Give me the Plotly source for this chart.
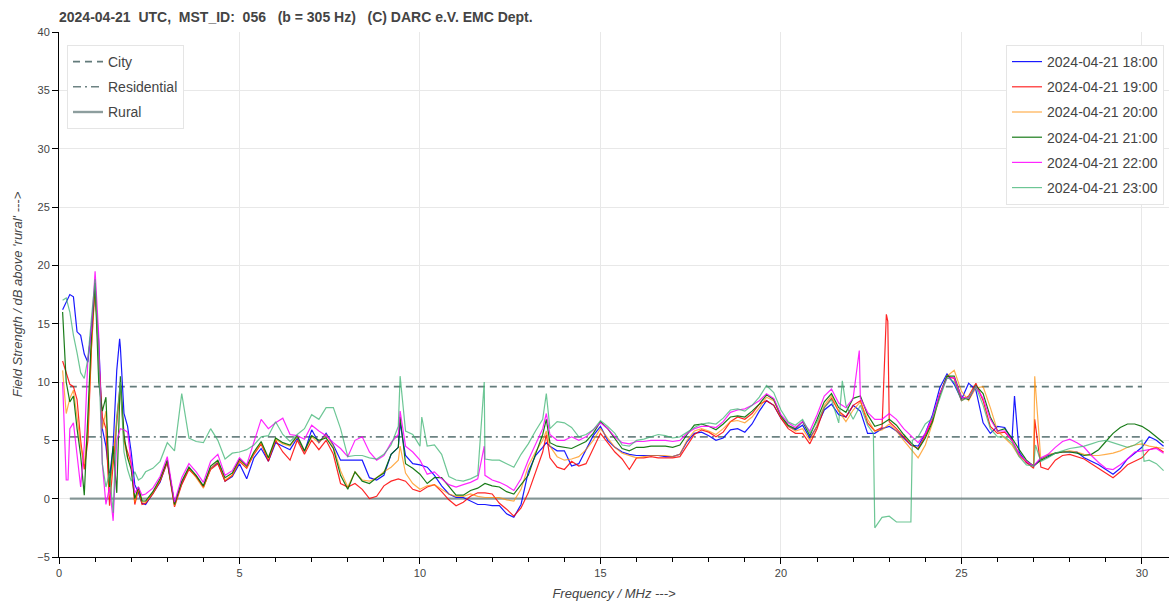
import plotly.graph_objects as go

# ---------------- data ----------------
freq_mhz = [0.1, 0.2, 0.3, 0.4, 0.5, 0.6, 0.7, 0.8, 0.9, 1.0, 1.1, 1.2, 1.3, 1.4, 1.5, 1.6, 1.7, 1.8, 1.9, 2.0, 2.1, 2.2, 2.3,
            2.4, 2.6, 2.8, 3.0, 3.2, 3.4, 3.6, 3.8, 4.0, 4.2, 4.4, 4.6, 4.8, 5.0, 5.2,
            5.4, 5.6, 5.8, 6.0, 6.2, 6.4, 6.6, 6.8, 7.0, 7.2, 7.4, 7.6, 7.8, 8.0, 8.2,
            8.4, 8.6, 8.8, 9.0, 9.2, 9.4, 9.6, 9.8, 10.0, 10.2, 10.4, 10.6, 10.8, 11.0, 11.2,
            11.4, 11.6, 11.8, 12.0, 12.2, 12.4, 12.6, 12.8, 13.0, 13.2, 13.4, 13.6, 13.8, 14.0, 14.2,
            14.4, 14.6, 14.8, 15.0, 15.2, 15.4, 15.6, 15.8, 16.0, 16.2, 16.4, 16.6, 16.8, 17.0, 17.2,
            17.4, 17.6, 17.8, 18.0, 18.2, 18.4, 18.6, 18.8, 19.0, 19.2, 19.4, 19.6, 19.8, 20.0, 20.2,
            20.4, 20.6, 20.8, 21.0, 21.2, 21.4, 21.6, 21.8, 22.0, 22.2, 22.4, 22.6, 22.8, 23.0, 23.2,
            23.4, 23.6, 23.8, 24.0, 24.2, 24.4, 24.6, 24.8, 25.0, 25.2, 25.4, 25.6, 25.8, 26.0, 26.2,
            26.4, 26.6, 26.8, 27.0, 27.2, 27.4, 27.6, 27.8, 28.0, 28.2, 28.4, 28.6, 28.8, 29.0, 29.2,
            29.4, 29.6, 29.8, 30.0, 30.2, 30.4, 30.6]

s_1800 = [16.2, 16.9, 17.5, 17.3, 14.3, 14.0, 12.4, 11.7, 14.5, 17.8, 13.5, 6.0, 4.5, 1.8, 4.5, 11.0, 13.0, 7.3, 6.2, 4.0, 1.2, 0.5, -0.4,
          -0.5, 0.5, 1.4, 3.2, -0.4, 1.3, 2.6, 1.9, 1.0, 2.6, 3.1, 1.5, 1.9, 3.0, 1.7,
          3.5, 4.3, 3.2, 4.8, 4.5, 4.2, 5.2, 4.0, 5.9, 4.8, 5.6, 4.6, 3.3, 3.3, 3.3,
          3.3, 1.8, 1.6, 2.0, 3.8, 4.4, 3.7, 3.0, 2.9, 2.7, 2.0, 1.1, 0.4, 0.1, 0.1,
          -0.2, -0.5, -0.5, -0.6, -0.6, -1.3, -1.6, -0.5, 2.3, 3.7, 4.4, 4.5, 4.1, 4.1, 2.8,
          3.0, 4.2, 5.4, 6.2, 5.0, 4.4, 4.0, 3.8, 3.7, 3.7, 3.7, 3.7, 3.6, 3.6, 3.8,
          4.9, 5.6, 5.7, 5.4, 5.0, 5.2, 5.9, 6.0, 5.7, 6.4, 7.5, 8.4, 8.0, 6.9, 6.2,
          5.9, 6.3, 5.2, 6.2, 7.6, 8.1, 7.2, 7.0, 8.0, 7.5, 5.6, 5.6, 6.0, 6.2, 5.8,
          5.2, 4.6, 4.5, 5.6, 7.2, 9.5, 10.7, 9.8, 8.5, 9.9, 9.3, 6.5, 5.6, 6.2, 6.1,
          5.0, 4.0, 3.1, 2.8, 3.4, 3.7, 3.9, 4.0, 4.0, 4.0, 3.5, 3.2, 2.9, 2.5, 2.1,
          2.6, 3.4, 3.9, 4.4, 5.3, 5.0, 4.5]
spikes_1800 = [(1.68, 13.7), (9.45, 6.5), (13.5, 4.8), (26.47, 8.8)]

s_1900 = [11.8, 10.8, 9.8, 9.6, 8.5, 5.0, 2.5, 5.0, 13.0, 18.5, 12.0, 7.0, 6.0, -0.6, 3.0, 6.0, 10.0, 5.0, 4.0, 3.0, -0.5, 0.8, -0.5,
          -0.4, 0.4, 1.5, 3.1, -0.7, 1.2, 2.5, 1.9, 1.0, 2.5, 3.0, 1.5, 2.0, 3.2, 2.6,
          3.8, 4.7, 3.2, 5.0, 4.0, 3.3, 5.0, 3.8, 5.0, 4.2, 5.0, 3.8, 1.3, 1.0, 1.3,
          0.8, 0.0, 0.2, 1.1, 1.5, 1.7, 1.5, 0.8, 0.6, 1.0, 1.2, 0.6, -0.1, -0.6, -0.3,
          0.2, 0.5, 0.5, 0.4, -0.4, -0.9, -1.5, -0.8, 0.5, 2.3, 4.0, 3.5, 2.7, 2.5, 3.2,
          2.8, 3.0, 4.3, 5.6, 4.8, 4.0, 3.4, 2.5, 3.5, 3.5, 3.6, 3.5, 3.5, 3.5, 3.6,
          4.6, 5.5, 5.9, 5.7, 5.3, 5.7, 6.6, 7.0, 6.8, 7.3, 8.1, 8.4, 8.0, 6.9, 6.0,
          5.6, 5.6, 4.7, 6.0, 7.8, 8.6, 7.5, 7.0, 8.0, 8.4, 6.5, 5.8, 6.1, 6.6, 6.0,
          5.3, 4.6, 4.3, 5.4, 6.8, 9.0, 10.5, 10.3, 8.4, 8.8, 9.9, 8.4, 6.2, 5.6, 5.7,
          5.0, 3.8, 3.1, 2.6, 2.7, 2.5, 3.3, 3.7, 3.8, 3.6, 3.4, 3.0, 2.6, 2.2, 1.8,
          2.3, 2.9, 3.2, 3.5, 4.2, 4.4, 4.0]
spikes_1900 = [(13.5, 5.5), (22.92, 15.8), (22.96, 15.2), (27.03, 6.8)]

s_2000 = [11.0, 7.3, 8.6, 9.3, 7.0, 4.5, 3.0, 6.0, 13.0, 18.0, 12.0, 6.0, 7.5, 0.5, 3.5, 7.0, 9.5, 5.0, 3.5, 3.0, -0.3, 0.9, -0.3,
          -0.3, 0.5, 1.6, 3.3, -0.6, 1.4, 2.6, 1.8, 0.9, 2.6, 3.2, 1.6, 2.0, 3.3, 2.7,
          3.9, 4.8, 3.4, 5.1, 4.7, 4.5, 5.3, 4.0, 5.3, 4.8, 5.5, 4.5, 2.4, 1.0, 2.3,
          1.6, 1.5, 1.8, 2.3, 2.7, 3.3, 2.2, 1.3, 0.8, 1.1, 1.2, 0.8, 0.4, 0.2, 0.2,
          0.4, 0.2, 0.1, 0.1, 0.1, -0.1, -0.2, 0.8, 2.8, 4.0, 5.0, 4.5, 3.6, 3.3, 3.4,
          3.6, 4.2, 5.0, 6.0, 5.2, 4.4, 3.9, 3.7, 3.5, 3.6, 3.7, 3.7, 3.7, 3.6, 3.8,
          5.0, 5.8, 6.0, 5.8, 5.5, 6.0, 6.6, 6.7, 6.5, 7.0, 7.8, 8.7, 8.4, 7.0, 6.2,
          5.8, 6.0, 5.0, 6.3, 8.0, 8.8, 7.5, 6.6, 7.6, 8.3, 6.8, 5.8, 5.9, 6.4, 5.8,
          5.0, 4.2, 3.5, 4.6, 6.5, 8.8, 10.5, 11.0, 9.2, 8.4, 9.5, 9.6, 7.8, 5.8, 5.2,
          4.6, 3.6, 3.2, 2.8, 3.3, 3.8, 3.9, 4.0, 4.1, 4.0, 3.8, 3.7, 3.7, 3.8, 3.9,
          4.1, 4.4, 4.6, 4.7, 4.5, 4.4, 4.3]
spikes_2000 = [(9.45, 4.5), (13.5, 5.8), (27.03, 10.5)]

s_2100 = [16.0, 10.0, 8.3, 8.8, 6.0, 3.7, 0.3, 7.0, 14.0, 18.5, 10.0, 7.5, 8.7, 1.0, 4.5, 0.5, 10.5, 5.5, 3.5, 2.5, 0.0, 1.0, -0.2,
          -0.2, 0.6, 1.7, 3.3, -0.5, 1.5, 2.7, 2.0, 1.1, 2.8, 3.3, 1.8, 2.2, 3.4, 2.8,
          4.0, 4.9, 3.5, 5.2, 4.8, 4.6, 5.4, 4.1, 5.4, 5.0, 5.2, 4.3, 2.0, 0.8, 2.3,
          1.5, 1.3, 1.8, 2.2, 3.8, 4.4, 3.0, 2.6, 2.1, 1.3, 1.8, 1.8, 1.0, 0.3, 0.3,
          0.7, 0.9, 1.3, 1.1, 1.0, 0.6, 0.4, 1.2, 2.0, 3.8, 5.5, 4.8, 4.5, 4.4, 4.3,
          4.6, 4.9, 5.6, 6.6, 6.0, 5.2, 4.3, 4.1, 4.4, 4.4, 4.5, 4.5, 4.5, 4.4, 4.6,
          5.5, 6.3, 6.4, 6.2, 5.9, 6.4, 7.0, 7.1, 7.0, 7.5, 8.1, 8.9, 8.5, 7.1, 6.3,
          6.0, 6.6, 5.4, 6.8, 8.3, 9.0, 7.8, 7.4, 8.6, 8.8, 7.2, 6.2, 6.4, 6.8, 6.3,
          5.5, 4.8, 4.2, 5.2, 6.6, 8.9, 10.5, 10.5, 8.7, 8.5, 9.7, 9.0, 7.0, 5.8, 6.0,
          5.2, 4.2, 3.3, 2.8, 3.3, 3.6, 3.9, 4.0, 4.0, 3.9, 3.7, 3.8, 4.2, 4.9, 5.6,
          6.1, 6.4, 6.4, 6.2, 5.8, 5.3, 4.8]
spikes_2100 = [(9.45, 7.0), (13.5, 6.8)]

s_2200 = [10.0, 1.6, 6.0, 6.5, 4.0, 1.0, 4.5, 12.0, 14.5, 19.5, 14.0, 3.0, -0.5, 1.0, -1.9, 5.0, 6.0, 5.9, 5.7, 3.0, 0.5, 1.0, 0.3,
          0.4, 0.9, 1.9, 3.6, -0.3, 1.8, 3.0, 2.3, 1.4, 3.2, 3.8, 2.0, 2.4, 3.5, 2.9,
          4.8, 6.8, 6.0, 6.5, 6.9, 5.5, 5.4, 5.1, 6.3, 5.8, 5.4, 4.8, 4.3, 3.6, 5.0,
          5.3, 4.0, 3.3, 3.7, 4.8, 5.5, 4.5, 4.0, 3.3, 2.1, 2.3, 1.7, 1.2, 1.0, 1.2,
          1.4, 1.7, 2.0, 1.6, 1.4, 1.1, 0.7, 1.7, 3.3, 4.6, 6.0, 5.5, 5.0, 5.0, 5.3,
          5.0, 5.3, 5.9, 6.5, 6.0, 5.3, 4.8, 4.7, 4.9, 4.9, 5.0, 5.0, 5.0, 4.9, 5.0,
          5.6, 6.0, 6.2, 6.2, 6.1, 6.6, 7.4, 7.6, 7.7, 8.0, 8.4, 9.0, 8.6, 7.2, 6.5,
          6.1, 6.6, 5.8, 7.2, 8.8, 9.4, 8.2, 7.8, 8.6, 8.6, 7.4, 6.8, 6.8, 7.3, 6.8,
          6.0, 5.4, 4.8, 5.6, 7.0, 9.0, 10.3, 10.4, 8.7, 8.6, 9.6, 8.6, 6.8, 5.8, 5.8,
          5.0, 3.8, 3.2, 2.8, 3.5, 3.8, 4.4, 4.9, 5.1, 4.8, 4.4, 3.7, 3.1, 2.6, 2.5,
          2.9, 3.4, 4.0, 4.1, 4.2, 4.3, 3.9]
spikes_2200 = [(0.25, 1.6), (9.45, 7.5), (11.78, 4.5), (13.5, 7.3), (22.17, 12.7)]

s_2300 = [17.0, 17.2, 16.0, 14.0, 12.5, 10.8, 10.3, 12.0, 15.5, 18.8, 12.0, 3.0, 1.0, 2.2, -1.2, 7.0, 10.0, 4.0, 2.5, 1.5, 2.3, 1.6, 1.8,
          2.3, 2.6, 3.2, 4.8, 4.1, 9.0, 5.2, 4.9, 4.8, 6.0, 5.0, 3.4, 3.9, 4.0, 4.2,
          4.6, 5.3, 5.4, 6.6, 5.5, 4.9, 5.5, 6.0, 7.2, 6.8, 7.8, 7.8, 6.0, 3.6, 3.7,
          3.7, 3.5, 3.4, 3.8, 4.6, 6.2, 5.8, 5.5, 4.5, 4.5, 4.6, 3.8, 1.9, 1.6, 1.5,
          1.7, 2.0, 3.4, 3.3, 3.3, 3.0, 2.7, 3.8, 4.7, 5.8, 6.8, 6.0, 6.6, 6.5, 6.1,
          5.3, 5.5, 5.9, 6.7, 6.2, 5.6, 4.6, 4.5, 5.0, 5.1, 5.3, 5.5, 5.4, 5.2, 5.3,
          5.7, 6.1, 6.4, 6.5, 6.4, 6.9, 7.6, 7.7, 7.5, 8.0, 8.7, 9.7, 9.1, 7.6, 6.6,
          6.3, 6.8, 5.6, 6.6, 7.8, 8.5, 6.5, 8.0, 6.8, 8.0, 6.3, -2.5, -1.6, -1.5, -2.0,
          -2.0, -2.0, 5.3, 6.4, 6.9, 8.6, 10.4, 10.0, 8.4, 8.7, 9.6, 8.0, 6.0, 5.3, 5.3,
          4.8, 3.6, 2.9, 2.8, 3.2, 3.5, 3.9, 4.1, 4.3, 4.4, 4.5, 4.7, 4.9, 5.0, 4.8,
          4.6, 4.4, 4.6, 5.0, 3.3, 3.0, 2.4]
spikes_2300 = [(9.45, 10.5), (10.05, 7.0), (11.78, 10.0), (13.5, 9.0), (21.7, 10.1),
               (22.56, 5.6), (23.64, 5.0), (27.05, 4.6), (30.06, 3.2)]

series_names = ["2024-04-21 18:00", "2024-04-21 19:00", "2024-04-21 20:00",
                "2024-04-21 21:00", "2024-04-21 22:00", "2024-04-21 23:00"]
series_values = [s_1800, s_1900, s_2000, s_2100, s_2200, s_2300]
series_spikes = [spikes_1800, spikes_1900, spikes_2000, spikes_2100, spikes_2200, spikes_2300]
series_colors = ["rgba(0,0,255,0.9)", "rgba(255,0,0,0.85)", "rgba(255,140,0,0.7)",
                 "rgba(0,110,0,0.9)", "rgba(255,0,255,0.85)", "rgba(60,179,113,0.75)"]

ref_names = ["City", "Residential", "Rural"]
ref_levels = [9.6, 5.3, 0.0]
ref_span = [0.3, 30.0]

x_ticks = [0, 5, 10, 15, 20, 25, 30]
y_ticks = [-5, 0, 5, 10, 15, 20, 25, 30, 35, 40]

for v in series_values:
    if len(v) != len(freq_mhz):
        raise ValueError("length mismatch %d vs %d" % (len(v), len(freq_mhz)))


def merge(values, spikes):
    pts = list(zip(freq_mhz, values)) + list(spikes)
    pts.sort(key=lambda p: p[0])
    return [p[0] for p in pts], [p[1] for p in pts]


# ---------------- figure ----------------
fig = go.Figure()

ref_styles = [dict(color="rgba(47,79,79,0.75)", width=1.6, dash="7px,5px"),
              dict(color="rgba(47,79,79,0.7)", width=1.6, dash="8px,4px,2px,4px"),
              dict(color="rgba(47,79,79,0.55)", width=2.4, dash="solid")]
for i, (name, lvl, st) in enumerate(zip(ref_names, ref_levels, ref_styles)):
    fig.add_trace(go.Scatter(x=ref_span, y=[lvl, lvl], mode="lines", name=name,
                             line=st, legend="legend", legendgroup="r%d" % i, hoverinfo="skip"))

for i, (name, vals, spk, col) in enumerate(zip(series_names, series_values, series_spikes, series_colors)):
    xs, ys = merge(vals, spk)
    fig.add_trace(go.Scatter(x=xs, y=ys, mode="lines", name=name,
                             line=dict(color=col, width=1.2), legend="legend2",
                             legendgroup="s%d" % i))

FONT = "Liberation Sans, Arial, Helvetica, sans-serif"
L, R, T, B = 59, 0, 32, 49
W, H = 1169, 606

fig.update_layout(
    width=W, height=H,
    margin=dict(l=L, r=R, t=T, b=B, autoexpand=False),
    paper_bgcolor="white", plot_bgcolor="white",
    font=dict(family=FONT, color="#444444", size=12),
    title=dict(text="2024-04-21\u00a0\u00a0UTC,\u00a0\u00a0MST_ID:\u00a0\u00a0056\u00a0\u00a0\u00a0(b = 305 Hz)\u00a0\u00a0\u00a0(C) DARC e.V. EMC Dept.",
               font=dict(family=FONT, size=14, color="#444444", weight="bold"),
               xref="container", yref="container", x=59 / W, y=1 - 17 / H,
               xanchor="left", yanchor="middle"),
    showlegend=True,
    legend=dict(x=(67 - L) / (W - L), y=(H - B - 45) / (H - T - B), xanchor="left", yanchor="top",
                bgcolor="white", bordercolor="#e5e5e5", borderwidth=1, tracegroupgap=4,
                font=dict(family=FONT, size=14, color="#444444"), itemwidth=30),
    legend2=dict(x=(1006 - L) / (W - L), y=(H - B - 45) / (H - T - B), xanchor="left", yanchor="top",
                 bgcolor="white", bordercolor="#e5e5e5", borderwidth=1, tracegroupgap=4,
                 font=dict(family=FONT, size=14, color="#444444"), itemwidth=30),
)

fig.update_xaxes(range=[0, 30.75], tickvals=x_ticks, ticks="outside", ticklen=6, tickcolor="black",
                 showline=True, linecolor="black", linewidth=1, showgrid=True, gridcolor="#e8e8e8",
                 zeroline=False, tickfont=dict(family=FONT, size=11, color="#444444"),
                 minor=dict(dtick=1, tick0=0, ticks="outside", ticklen=4, tickcolor="black", showgrid=False),
                 title=dict(text="<i>Frequency / MHz ---></i>", font=dict(family=FONT, size=13, color="#444444"),
                            standoff=10))
fig.update_yaxes(range=[-5, 40], tickvals=y_ticks, ticks="outside", ticklen=6, tickcolor="black",
                 showline=True, linecolor="black", linewidth=1, showgrid=True, gridcolor="#e8e8e8",
                 zeroline=False, tickfont=dict(family=FONT, size=11, color="#444444"),
                 title=dict(text="<i>Field Strength / dB above 'rural' ---></i>",
                            font=dict(family=FONT, size=13, color="#444444"), standoff=11))

fig.write_html("out.html", config={"displayModeBar": False},
               post_script="document.body.style.margin='0px';document.body.style.padding='0px';")
